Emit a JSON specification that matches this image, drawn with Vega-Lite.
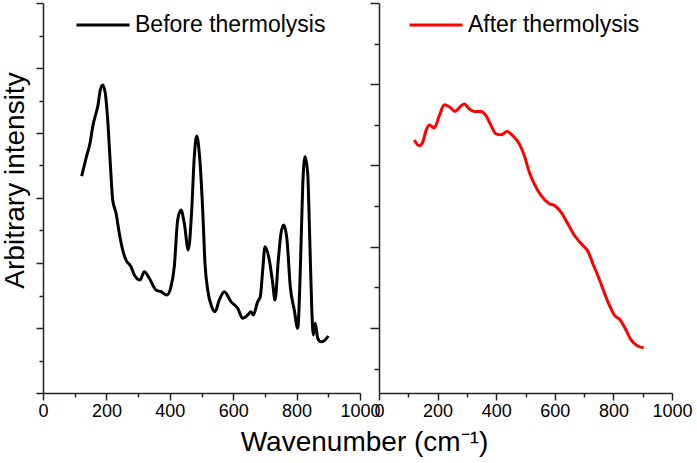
{
  "$schema": "https://vega.github.io/schema/vega-lite/v6.json",
  "padding": {"left": 1, "top": -3, "right": 5, "bottom": 5},
  "bounds": "flush",
  "spacing": 19,
  "background": "white",
  "config": {
    "view": {"stroke": null},
    "font": "Liberation Sans",
    "axis": {
      "domainColor": "#222",
      "domainWidth": 1.5,
      "tickColor": "#222",
      "tickWidth": 1.5,
      "grid": false,
      "labelFont": "Liberation Sans",
      "labelFontSize": 18,
      "labelColor": "black",
      "titleFont": "Liberation Sans",
      "titleFontWeight": "normal",
      "titleColor": "black",
      "titleFontSize": 28
    },
    "legend": {
      "labelFont": "Liberation Sans",
      "labelFontSize": 23,
      "labelColor": "black",
      "labelLimit": 0,
      "symbolType": "stroke",
      "symbolSize": 2809,
      "symbolStrokeWidth": 3,
      "labelOffset": 4,
      "padding": 0,
      "orient": "none",
      "title": null
    }
  },
  "datasets": {
    "before": [
      {"wn": 122, "v": 3.338}, {"wn": 135.6, "v": 3.611}, {"wn": 149.2, "v": 3.866}, {"wn": 156.8, "v": 4.097},
      {"wn": 167.2, "v": 4.303}, {"wn": 172.6, "v": 4.405}, {"wn": 180.8, "v": 4.662}, {"wn": 188.3, "v": 4.738},
      {"wn": 196.5, "v": 4.611}, {"wn": 204.1, "v": 4.2}, {"wn": 212.3, "v": 3.534}, {"wn": 219.9, "v": 2.969},
      {"wn": 230.3, "v": 2.769}, {"wn": 240.7, "v": 2.457}, {"wn": 251.4, "v": 2.2}, {"wn": 261.8, "v": 2.046},
      {"wn": 277.6, "v": 1.943}, {"wn": 288, "v": 1.815}, {"wn": 306, "v": 1.738}, {"wn": 319.6, "v": 1.866},
      {"wn": 335.3, "v": 1.765}, {"wn": 356.5, "v": 1.585}, {"wn": 372.2, "v": 1.558}, {"wn": 391.2, "v": 1.508},
      {"wn": 403.8, "v": 1.635}, {"wn": 414.2, "v": 1.943}, {"wn": 424.9, "v": 2.662}, {"wn": 435.3, "v": 2.815},
      {"wn": 445.7, "v": 2.611}, {"wn": 458.4, "v": 2.2}, {"wn": 469.1, "v": 2.815}, {"wn": 477.3, "v": 3.635},
      {"wn": 484.9, "v": 3.954}, {"wn": 493.1, "v": 3.688}, {"wn": 503.8, "v": 2.815}, {"wn": 511, "v": 1.995},
      {"wn": 519.6, "v": 1.585}, {"wn": 532.2, "v": 1.328}, {"wn": 542.6, "v": 1.251}, {"wn": 556.2, "v": 1.431},
      {"wn": 571.9, "v": 1.558}, {"wn": 593.1, "v": 1.405}, {"wn": 614.2, "v": 1.303}, {"wn": 630, "v": 1.149},
      {"wn": 645.7, "v": 1.2}, {"wn": 656.2, "v": 1.251}, {"wn": 663.4, "v": 1.2}, {"wn": 677.3, "v": 1.405},
      {"wn": 685.5, "v": 1.482}, {"wn": 693.1, "v": 1.892}, {"wn": 700.3, "v": 2.251}, {"wn": 713.9, "v": 2.046},
      {"wn": 724.6, "v": 1.688}, {"wn": 731.9, "v": 1.431}, {"wn": 742.3, "v": 2.046}, {"wn": 750.8, "v": 2.457},
      {"wn": 759.3, "v": 2.585}, {"wn": 769.7, "v": 2.354}, {"wn": 780.1, "v": 1.635}, {"wn": 792.7, "v": 1.277},
      {"wn": 803.5, "v": 0.995}, {"wn": 811.7, "v": 1.892}, {"wn": 819.2, "v": 3.174}, {"wn": 826.5, "v": 3.635},
      {"wn": 835, "v": 3.38}, {"wn": 841.3, "v": 2.405}, {"wn": 847.6, "v": 1.328}, {"wn": 852.7, "v": 0.892},
      {"wn": 859, "v": 1.072}, {"wn": 866.6, "v": 0.842}, {"wn": 877, "v": 0.789}, {"wn": 889.6, "v": 0.815},
      {"wn": 900, "v": 0.877}
    ],
    "after": [
      {"wn": 120.5, "v": 3.315}, {"wn": 137.5, "v": 3.245}, {"wn": 149.1, "v": 3.286}, {"wn": 160.4, "v": 3.429},
      {"wn": 171.7, "v": 3.499}, {"wn": 188.7, "v": 3.463}, {"wn": 205.8, "v": 3.613}, {"wn": 222.9, "v": 3.748},
      {"wn": 239.9, "v": 3.724}, {"wn": 259.4, "v": 3.666}, {"wn": 277.5, "v": 3.724}, {"wn": 291.1, "v": 3.757},
      {"wn": 308.2, "v": 3.696}, {"wn": 325.3, "v": 3.666}, {"wn": 348.1, "v": 3.666}, {"wn": 365.2, "v": 3.613},
      {"wn": 382.3, "v": 3.491}, {"wn": 399.3, "v": 3.389}, {"wn": 416.4, "v": 3.377}, {"wn": 436.9, "v": 3.417},
      {"wn": 456.3, "v": 3.368}, {"wn": 478.8, "v": 3.266}, {"wn": 495.9, "v": 3.123}, {"wn": 513, "v": 2.918},
      {"wn": 530, "v": 2.775}, {"wn": 552.9, "v": 2.632}, {"wn": 581.2, "v": 2.53}, {"wn": 598.3, "v": 2.509},
      {"wn": 621.2, "v": 2.427}, {"wn": 644, "v": 2.285}, {"wn": 666.6, "v": 2.141}, {"wn": 695.2, "v": 2.018},
      {"wn": 714.3, "v": 1.936}, {"wn": 729.4, "v": 1.794}, {"wn": 746.4, "v": 1.65}, {"wn": 763.5, "v": 1.487},
      {"wn": 786, "v": 1.282}, {"wn": 803.1, "v": 1.16}, {"wn": 823.6, "v": 1.098}, {"wn": 843, "v": 0.975},
      {"wn": 860.1, "v": 0.853}, {"wn": 882.9, "v": 0.779}, {"wn": 903.4, "v": 0.758}
    ]
  },
  "resolve": {"scale": {"x": "independent", "y": "independent", "color": "independent"}, "legend": {"color": "independent"}},
  "hconcat": [
    {
      "width": 317,
      "height": 390,
      "data": {"name": "before"},
      "transform": [{"calculate": "'Before thermolysis'", "as": "series"}],
      "mark": {"type": "line", "strokeWidth": 3, "interpolate": "monotone", "clip": true},
      "encoding": {
        "x": {
          "field": "wn", "type": "quantitative",
          "scale": {"domain": [0, 1000], "nice": false, "zero": false},
          "axis": {
            "values": [0, 100, 200, 300, 400, 500, 600, 700, 800, 900, 1000],
            "labelExpr": "datum.value % 200 === 0 ? datum.label : ''",
            "format": "d",
            "labelFlush": false,
            "labelOverlap": false,
            "labelBound": false,
            "labelPadding": 2,
            "tickSize": {"condition": {"test": "datum.value % 200 === 0", "value": 7}, "value": 4},
            "title": "Wavenumber (cm⁻¹)",
            "titleX": 321,
            "titleAnchor": null,
            "titleAlign": "center",
            "titlePadding": 8
          }
        },
        "y": {
          "field": "v", "type": "quantitative",
          "scale": {"domain": [0, 6], "nice": false, "zero": false},
          "axis": {
            "values": [0, 0.5, 1, 1.5, 2, 2.5, 3, 3.5, 4, 4.5, 5, 5.5, 6],
            "labels": false,
            "tickSize": {"condition": {"test": "datum.value % 1 === 0", "value": 7}, "value": 4},
            "title": "Arbitrary intensity",
            "titlePadding": 6,
            "titleY": 177,
            "titleAlign": "center"
          }
        },
        "color": {
          "field": "series", "type": "nominal",
          "scale": {"domain": ["Before thermolysis"], "range": ["black"]},
          "legend": {"legendX": 32, "legendY": -6}
        }
      }
    },
    {
      "width": 293,
      "height": 390,
      "data": {"name": "after"},
      "transform": [{"calculate": "'After thermolysis'", "as": "series"}],
      "mark": {"type": "line", "strokeWidth": 3, "interpolate": "monotone", "clip": true},
      "encoding": {
        "x": {
          "field": "wn", "type": "quantitative",
          "scale": {"domain": [0, 1000], "nice": false, "zero": false},
          "axis": {
            "values": [0, 100, 200, 300, 400, 500, 600, 700, 800, 900, 1000],
            "labelExpr": "datum.value % 200 === 0 ? datum.label : ''",
            "format": "d",
            "labelFlush": false,
            "labelOverlap": false,
            "labelBound": false,
            "labelPadding": 2,
            "tickSize": {"condition": {"test": "datum.value % 200 === 0", "value": 7}, "value": 4},
            "title": null
          }
        },
        "y": {
          "field": "v", "type": "quantitative",
          "scale": {"domain": [0.2, 5], "nice": false, "zero": false},
          "axis": {
            "values": [0.5, 1, 1.5, 2, 2.5, 3, 3.5, 4, 4.5, 5],
            "labels": false,
            "tickSize": {"condition": {"test": "datum.value % 1 === 0", "value": 9}, "value": 5},
            "title": null
          }
        },
        "color": {
          "field": "series", "type": "nominal",
          "scale": {"domain": ["After thermolysis"], "range": ["#ff0000"]},
          "legend": {"legendX": 29, "legendY": -6}
        }
      }
    }
  ]
}
